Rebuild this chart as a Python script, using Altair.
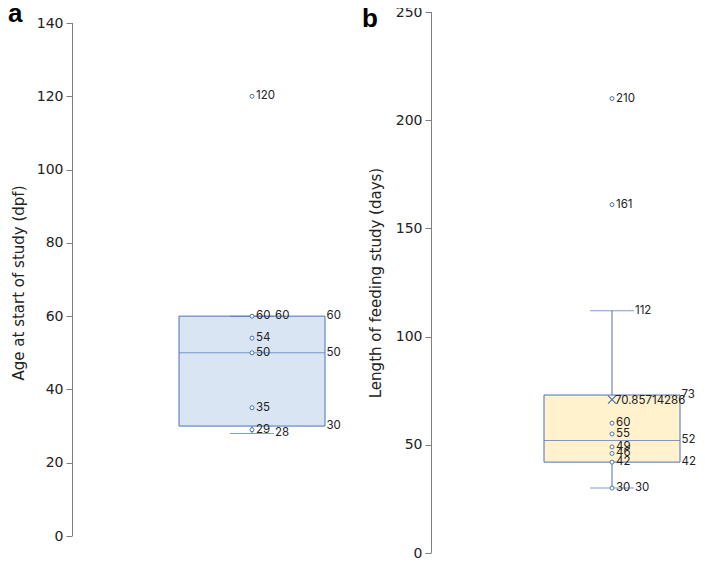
import altair as alt
import pandas as pd

FONT = "Inter"
AXFONT = "DejaVu Sans"
BLUE = "#4a72b8"
GRAY = "#808080"
TEXT = "#222222"

# ---------------- panel a ----------------
a_points = [120, 60, 54, 50, 35, 29]
a_stats = [28, 30, 50, 60, 60]          # whisker min, Q1, median, Q3, whisker max
a_ticks = [0, 20, 40, 60, 80, 100, 120, 140]
a_title = "Age at start of study (dpf)"

# ---------------- panel b ----------------
b_points = [210, 161, 60, 55, 49, 46, 42, 30]
b_stats = [30, 42, 52, 73, 112]
b_mean = [70.85714286]
b_mean_label = ["70.85714286"]
b_ticks = [0, 50, 100, 150, 200, 250]
b_title = "Length of feeding study (days)"


def panel(letter, points, stats, means, mean_labels, ticks, domain, fill, title,
          width, align, letter_x, letter_y, title_pad, box_w, height=541):
    wmin, q1, med, q3, wmax = stats
    x = alt.X("c:N", scale=alt.Scale(type="point", align=align), axis=None)
    y_scale = alt.Scale(domain=domain, nice=False, zero=False)
    y_axis = alt.Axis(values=ticks, domain=False, grid=False, tickSize=6,
                      tickColor=GRAY, tickWidth=1, labelFont=AXFONT,
                      labelFontSize=14, labelColor=TEXT, labelPadding=3,
                      title=title, titleFont=AXFONT, titleFontSize=15,
                      titleFontWeight="normal", titleColor=TEXT,
                      titlePadding=title_pad)

    def Y(field):
        return alt.Y(field, scale=y_scale, axis=y_axis)

    box_df = pd.DataFrame({"c": ["g"], "wmin": [wmin], "q1": [q1], "med": [med],
                           "q3": [q3], "wmax": [wmax]})
    pts_df = pd.DataFrame({"c": ["g"] * len(points), "v": points,
                           "t": [str(p) for p in points]})
    wh_df = pd.DataFrame({"c": ["g", "g"], "v": [wmin, wmax],
                          "t": [str(wmin), str(wmax)]})
    bx_df = pd.DataFrame({"c": ["g"] * 3, "v": [q1, med, q3],
                          "t": [str(q1), str(med), str(q3)]})
    ax_df = pd.DataFrame({"lo": [ticks[0]], "hi": [ticks[-1]]})

    layers = []
    layers.append(alt.Chart(ax_df).mark_rule(color=GRAY, strokeWidth=1).encode(
        x=alt.value(0.5), y=Y("lo:Q"), y2="hi:Q"))
    layers.append(alt.Chart(box_df).mark_bar(size=box_w, fill=fill, stroke=BLUE,
                                             strokeWidth=1).encode(
        x=x, y=Y("q1:Q"), y2="q3:Q"))
    layers.append(alt.Chart(box_df).mark_rule(color=BLUE, strokeWidth=1).encode(
        x=x, y=Y("q3:Q"), y2="wmax:Q"))
    layers.append(alt.Chart(box_df).mark_rule(color=BLUE, strokeWidth=1).encode(
        x=x, y=Y("wmin:Q"), y2="q1:Q"))
    layers.append(alt.Chart(wh_df).mark_tick(orient="horizontal", size=44,
                                            thickness=1, color=BLUE).encode(
        x=x, y=Y("v:Q")))
    layers.append(alt.Chart(box_df).mark_tick(orient="horizontal", size=box_w,
                                             thickness=1, color=BLUE).encode(
        x=x, y=Y("med:Q")))
    layers.append(alt.Chart(pts_df).mark_point(shape="circle", size=16,
                                              fill="#ffffff", stroke=BLUE,
                                              strokeWidth=1, opacity=1).encode(
        x=x, y=Y("v:Q")))
    txt = dict(align="left", baseline="middle", font=FONT, fontSize=11.5, color=TEXT)
    layers.append(alt.Chart(pts_df).mark_text(dx=4, **txt).encode(
        x=x, y=Y("v:Q"), text="t:N"))
    layers.append(alt.Chart(wh_df).mark_text(dx=23, **txt).encode(
        x=x, y=Y("v:Q"), text="t:N"))
    layers.append(alt.Chart(bx_df).mark_text(dx=box_w / 2 + 1.5, **txt).encode(
        x=x, y=Y("v:Q"), text="t:N"))
    if means:
        m_df = pd.DataFrame({"c": ["g"] * len(means), "v": means, "t": mean_labels})
        layers.append(alt.Chart(m_df).mark_point(
            shape="M-1,-1L1,1M-1,1L1,-1", size=64, filled=False, stroke=BLUE,
            strokeWidth=1.2, opacity=1).encode(x=x, y=Y("v:Q")))
        layers.append(alt.Chart(m_df).mark_text(dx=3, dy=1, **txt).encode(
            x=x, y=Y("v:Q"), text="t:N"))
    let_df = pd.DataFrame({"t": [letter]})
    layers.append(alt.Chart(let_df).mark_text(
        align="left", baseline="alphabetic", font="Liberation Sans",
        fontWeight="bold", fontSize=26, color="#000000").encode(
        x=alt.value(letter_x), y=alt.value(letter_y), text="t:N"))
    return alt.layer(*layers).properties(width=width, height=height)


# panel a: 0 and 140 keep their places while the plot is 541 px tall
pa = panel("a", a_points, a_stats, [], [], a_ticks, [-4.639, 143.002],
           "#dae5f4", a_title, width=288, align=180 / 288, letter_x=-64,
           letter_y=10, title_pad=10, box_w=146)
pb = panel("b", b_points, b_stats, b_mean, b_mean_label, b_ticks, [0, 250],
           "#fff2cc", b_title, width=250, align=181 / 250, letter_x=-69,
           letter_y=15, title_pad=12, box_w=136)

chart = alt.hconcat(pa, pb, spacing=2).properties(
    padding={"left": 0, "top": -7, "right": 0, "bottom": -1}
).configure_view(stroke=None)

chart.save("out.html", embed_options={"renderer": "svg", "actions": False})
